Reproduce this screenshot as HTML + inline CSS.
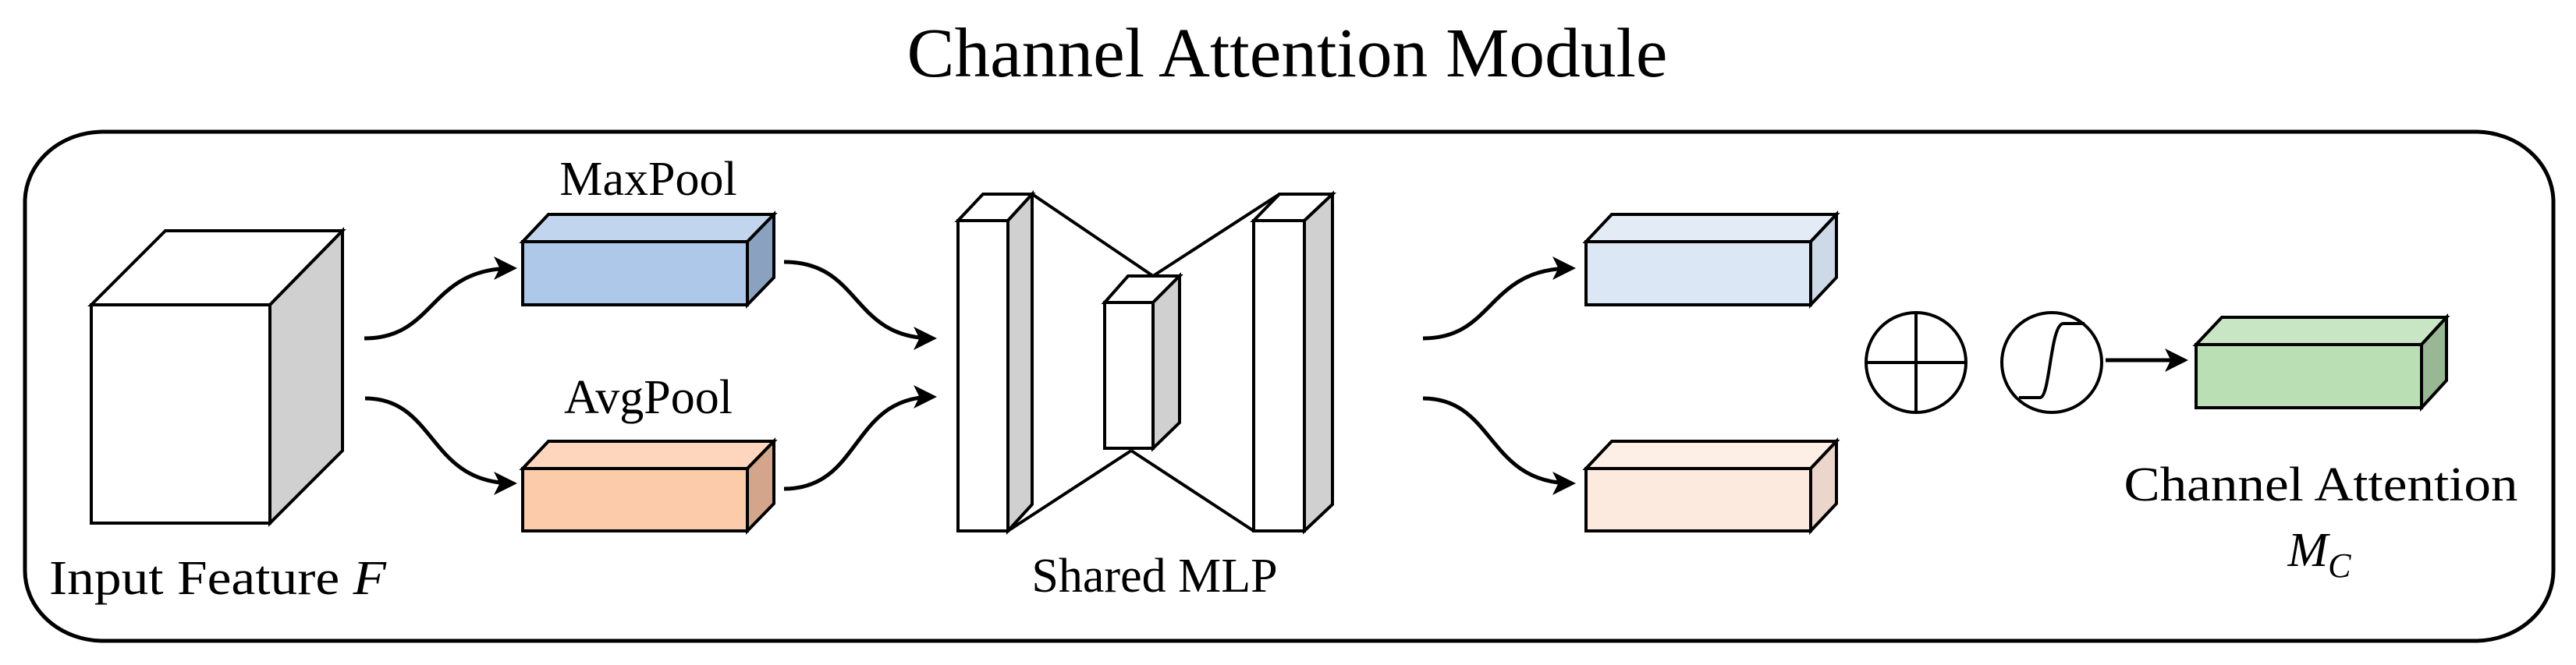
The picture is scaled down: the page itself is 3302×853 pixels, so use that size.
<!DOCTYPE html>
<html><head><meta charset="utf-8"><style>html,body{margin:0;padding:0;background:#fff}svg{display:block}text{font-family:"Liberation Serif",serif;fill:#000}</style></head>
<body>
<svg width="3302" height="853" viewBox="0 0 3302 853" xmlns="http://www.w3.org/2000/svg">
<defs>
<marker id="ah" markerWidth="6" markerHeight="6" refX="5" refY="3" orient="auto" markerUnits="strokeWidth"><path d="M0,0 L6,3 L0,6 L1.5,3 Z" fill="#000"/></marker>
</defs>
<text x="1650" y="98" font-size="90" text-anchor="middle" textLength="975" lengthAdjust="spacingAndGlyphs">Channel Attention Module</text>
<rect x="32" y="169" width="3241" height="653" rx="100" ry="90" fill="none" stroke="#000" stroke-width="5"/>
<g stroke="#000" stroke-width="4" stroke-linejoin="miter">
<!-- input cube -->
<polygon points="117,391 212,296 439,296 346,391" fill="#fff"/>
<polygon points="346,391 439,296 439,578 346,671" fill="#d0d0d0"/>
<rect x="117" y="391" width="229" height="280" fill="#fff"/>
<!-- maxpool -->
<polygon points="670,310 703,275 992,275 958,310" fill="#c1d6ee"/>
<polygon points="958,310 992,275 992,356 958,391" fill="#8aa2c0"/>
<rect x="670" y="310" width="288" height="81" fill="#adc8e8"/>
<!-- avgpool -->
<polygon points="670,601 703,566 992,566 958,601" fill="#fdd6bd"/>
<polygon points="958,601 992,566 992,646 958,681" fill="#d3a58a"/>
<rect x="670" y="601" width="288" height="80" fill="#fccbaa"/>
<!-- MLP lines -->
<line x1="1323" y1="249" x2="1478" y2="354"/>
<line x1="1478" y1="354" x2="1640" y2="249"/>
<line x1="1292" y1="681" x2="1450" y2="578"/>
<line x1="1450" y1="578" x2="1607" y2="681"/>
<!-- left slab -->
<polygon points="1228,283 1260,249 1323,249 1292,283" fill="#fff"/>
<polygon points="1292,283 1323,249 1323,647 1292,681" fill="#d0d0d0"/>
<rect x="1228" y="283" width="64" height="398" fill="#fff"/>
<!-- middle -->
<polygon points="1416,388 1446,354 1512,354 1478,388" fill="#fff"/>
<polygon points="1478,388 1512,354 1512,542 1478,575" fill="#d0d0d0"/>
<rect x="1416" y="388" width="62" height="187" fill="#fff"/>
<!-- right slab -->
<polygon points="1607,283 1640,249 1708,249 1672,283" fill="#fff"/>
<polygon points="1672,283 1708,249 1708,647 1672,681" fill="#d0d0d0"/>
<rect x="1607" y="283" width="65" height="398" fill="#fff"/>
<!-- light blue -->
<polygon points="2033,310 2066,275 2354,275 2321,310" fill="#e3ecf6"/>
<polygon points="2321,310 2354,275 2354,356 2321,391" fill="#cdd9e6"/>
<rect x="2033" y="310" width="288" height="81" fill="#dbe7f4"/>
<!-- light peach -->
<polygon points="2033,601 2066,566 2354,566 2321,601" fill="#feefe6"/>
<polygon points="2321,601 2354,566 2354,646 2321,681" fill="#ecd6cb"/>
<rect x="2033" y="601" width="288" height="80" fill="#fdeadf"/>
<!-- green -->
<polygon points="2815,442 2848,407 3136,407 3104,442" fill="#c9e6c4"/>
<polygon points="3104,442 3136,407 3136,488 3104,523" fill="#98b893"/>
<rect x="2815" y="442" width="289" height="81" fill="#badfb4"/>
</g>
<g fill="none" stroke="#000" stroke-width="5">
<path d="M467,434 C560,434 548,344 658,344" marker-end="url(#ah)"/>
<path d="M468,511 C560,511 548,620 658,620" marker-end="url(#ah)"/>
<path d="M1005,336 C1105,336 1090,434 1196,434" marker-end="url(#ah)"/>
<path d="M1005,627 C1105,627 1090,509 1196,509" marker-end="url(#ah)"/>
<path d="M1824,434 C1917,434 1905,344 2015,344" marker-end="url(#ah)"/>
<path d="M1824,511 C1917,511 1905,620 2015,620" marker-end="url(#ah)"/>
<path d="M2699,462 L2800,462" marker-end="url(#ah)"/>
</g>
<g fill="none" stroke="#000" stroke-width="4">
<circle cx="2456" cy="465" r="64" fill="#fff"/>
<line x1="2392" y1="465" x2="2520" y2="465"/>
<line x1="2456" y1="401" x2="2456" y2="529"/>
<circle cx="2630" cy="465" r="64" fill="#fff"/>
<path d="M2588,510 L2615,510 C2628,510 2628,415 2645,415 L2672,415"/>
</g>
<text x="279" y="762" font-size="62" text-anchor="middle" textLength="432" lengthAdjust="spacingAndGlyphs">Input Feature <tspan font-style="italic">F</tspan></text>
<text x="831" y="250" font-size="62" text-anchor="middle">MaxPool</text>
<text x="831" y="530" font-size="62" text-anchor="middle">AvgPool</text>
<text x="1480" y="759" font-size="62" text-anchor="middle">Shared MLP</text>
<text x="2975" y="642" font-size="62" text-anchor="middle" textLength="505" lengthAdjust="spacingAndGlyphs">Channel Attention</text>
<text x="2973" y="726" font-size="62" text-anchor="middle" font-style="italic">M<tspan font-size="44" dy="14">C</tspan></text>
</svg>
</body></html>
